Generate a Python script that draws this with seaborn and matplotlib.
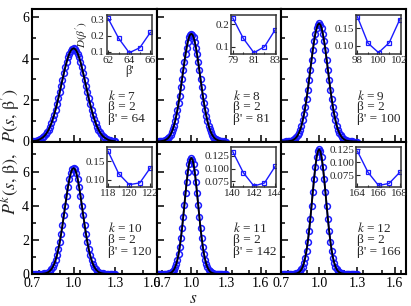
import matplotlib
matplotlib.use('Agg')
import matplotlib.pyplot as plt
from matplotlib.ticker import MultipleLocator
import seaborn as sns
import pandas as pd

# ---------------- data ----------------
S = [0.70, 0.71, 0.72, 0.73, 0.74, 0.75, 0.76, 0.77, 0.78, 0.79,
     0.80, 0.81, 0.82, 0.83, 0.84, 0.85, 0.86, 0.87, 0.88, 0.89,
     0.90, 0.91, 0.92, 0.93, 0.94, 0.95, 0.96, 0.97, 0.98, 0.99,
     1.00, 1.01, 1.02, 1.03, 1.04, 1.05, 1.06, 1.07, 1.08, 1.09,
     1.10, 1.11, 1.12, 1.13, 1.14, 1.15, 1.16, 1.17, 1.18, 1.19,
     1.20, 1.21, 1.22, 1.23, 1.24, 1.25, 1.26, 1.27, 1.28, 1.29, 1.30]

P7 = [0.01, 0.02, 0.03, 0.04, 0.06, 0.08, 0.12, 0.16, 0.21, 0.27,
      0.35, 0.45, 0.57, 0.72, 0.88, 1.08, 1.29, 1.54, 1.80, 2.08,
      2.38, 2.69, 2.99, 3.29, 3.58, 3.84, 4.06, 4.25, 4.39, 4.47,
      4.50,
      4.47, 4.39, 4.25, 4.06, 3.84, 3.58, 3.29, 2.99, 2.69, 2.38,
      2.08, 1.80, 1.54, 1.29, 1.08, 0.88, 0.72, 0.57, 0.45, 0.35,
      0.27, 0.21, 0.16, 0.12, 0.08, 0.06, 0.04, 0.03, 0.02, 0.01]
P8 = [0.00, 0.00, 0.01, 0.01, 0.02, 0.03, 0.04, 0.06, 0.09, 0.12,
      0.17, 0.24, 0.33, 0.45, 0.59, 0.77, 0.98, 1.24, 1.53, 1.86,
      2.22, 2.61, 3.02, 3.43, 3.83, 4.21, 4.54, 4.82, 5.03, 5.16,
      5.20,
      5.16, 5.03, 4.82, 4.54, 4.21, 3.83, 3.43, 3.02, 2.61, 2.22,
      1.86, 1.53, 1.24, 0.98, 0.77, 0.59, 0.45, 0.33, 0.24, 0.17,
      0.12, 0.09, 0.06, 0.04, 0.03, 0.02, 0.01, 0.01, 0.00, 0.00]
P9 = [0.00, 0.00, 0.00, 0.00, 0.01, 0.01, 0.02, 0.03, 0.04, 0.06,
      0.10, 0.14, 0.21, 0.30, 0.42, 0.57, 0.77, 1.02, 1.31, 1.66,
      2.05, 2.49, 2.97, 3.46, 3.95, 4.42, 4.84, 5.20, 5.47, 5.64,
      5.70,
      5.64, 5.47, 5.20, 4.84, 4.42, 3.95, 3.46, 2.97, 2.49, 2.05,
      1.66, 1.31, 1.02, 0.77, 0.57, 0.42, 0.30, 0.21, 0.14, 0.10,
      0.06, 0.04, 0.03, 0.02, 0.01, 0.01, 0.00, 0.00, 0.00, 0.00]
P10 = [0.00, 0.00, 0.00, 0.00, 0.00, 0.00, 0.01, 0.01, 0.02, 0.03,
       0.05, 0.08, 0.12, 0.19, 0.28, 0.41, 0.58, 0.81, 1.09, 1.44,
       1.85, 2.33, 2.86, 3.43, 4.01, 4.58, 5.11, 5.56, 5.91, 6.13,
       6.20,
       6.13, 5.91, 5.56, 5.11, 4.58, 4.01, 3.43, 2.86, 2.33, 1.85,
       1.44, 1.09, 0.81, 0.58, 0.41, 0.28, 0.19, 0.12, 0.08, 0.05,
       0.03, 0.02, 0.01, 0.01, 0.00, 0.00, 0.00, 0.00, 0.00, 0.00]
P11 = [0.00, 0.00, 0.00, 0.00, 0.00, 0.00, 0.00, 0.00, 0.01, 0.01,
       0.02, 0.04, 0.06, 0.10, 0.17, 0.26, 0.39, 0.58, 0.84, 1.17,
       1.59, 2.10, 2.68, 3.34, 4.03, 4.73, 5.39, 5.97, 6.42, 6.70,
       6.80,
       6.70, 6.42, 5.97, 5.39, 4.73, 4.03, 3.34, 2.68, 2.10, 1.59,
       1.17, 0.84, 0.58, 0.39, 0.26, 0.17, 0.10, 0.06, 0.04, 0.02,
       0.01, 0.01, 0.00, 0.00, 0.00, 0.00, 0.00, 0.00, 0.00, 0.00]
P12 = [0.00, 0.00, 0.00, 0.00, 0.00, 0.00, 0.00, 0.00, 0.00, 0.00,
       0.01, 0.02, 0.03, 0.06, 0.10, 0.17, 0.27, 0.43, 0.66, 0.96,
       1.37, 1.88, 2.50, 3.21, 4.00, 4.80, 5.58, 6.28, 6.83, 7.18,
       7.30,
       7.18, 6.83, 6.28, 5.58, 4.80, 4.00, 3.21, 2.50, 1.88, 1.37,
       0.96, 0.66, 0.43, 0.27, 0.17, 0.10, 0.06, 0.03, 0.02, 0.01,
       0.00, 0.00, 0.00, 0.00, 0.00, 0.00, 0.00, 0.00, 0.00, 0.00]

K = [7, 8, 9, 10, 11, 12]
BETA = 2
BETAP = [64, 81, 100, 120, 142, 166]

BP7 = [62, 63, 64, 65, 66]
BP8 = [79, 80, 81, 82, 83]
BP9 = [98, 99, 100, 101, 102]
BP10 = [118, 119, 120, 121, 122]
BP11 = [140, 141, 142, 143, 144]
BP12 = [164, 165, 166, 167, 168]
D7 = [0.306, 0.183, 0.094, 0.125, 0.220]
D8 = [0.229, 0.137, 0.073, 0.100, 0.175]
D9 = [0.183, 0.108, 0.081, 0.109, 0.175]
D10 = [0.177, 0.116, 0.086, 0.091, 0.132]
D11 = [0.133, 0.092, 0.066, 0.072, 0.104]
D12 = [0.121, 0.081, 0.056, 0.060, 0.081]

XTICKS = [0.7, 1.0, 1.3, 1.6]
# padding spaces keep the "1.6"/"0.7" pair apart where the first columns meet
XTICKLABELS = [["0.7", "1.0", "1.3", "1.6   "],
               ["   0.7", "1.0", "1.3", "1.6"],
               ["0.7", "1.0", "1.3", "1.6"]]
YTICKS = [0, 2, 4, 6]
INSET_YTICKS = [[0.1, 0.2, 0.3], [0.1, 0.2], [0.10, 0.15],
                [0.10, 0.15], [0.075, 0.100, 0.125], [0.075, 0.100, 0.125]]
INSET_YTICKLABELS = [["0.1", "0.2", "0.3"], ["0.1", "0.2"], ["0.10", "0.15"],
                     ["0.10", "0.15"], ["0.075", "0.100", "0.125"],
                     ["0.075", "0.100", "0.125"]]

P_ALL = [P7, P8, P9, P10, P11, P12]
BP_ALL = [BP7, BP8, BP9, BP10, BP11, BP12]
D_ALL = [D7, D8, D9, D10, D11, D12]

# ---------------- layout / style ----------------
XLIMS = [(0.7, 1.6), (0.7, 1.78), (0.7, 1.69)]
YLIMS = [(0, 6.4), (0, 7.76)]
INSET_YLIMS = [(0.086, 0.327), (0.067, 0.242), (0.077, 0.188),
               (0.081, 0.187), (0.065, 0.141), (0.054, 0.128)]

sns.set_theme(style='ticks')
plt.rcParams['font.family'] = ['Liberation Serif', 'DejaVu Serif']
plt.rcParams['mathtext.fontset'] = 'stix'

fig, axes = plt.subplots(2, 3, figsize=(4.11, 3.06), dpi=100)
fig.subplots_adjust(left=32 / 411, right=406 / 411, top=1 - 9 / 306,
                    bottom=1 - 274 / 306, wspace=0, hspace=0)

for i in range(6):
    r, c = divmod(i, 3)
    ax = axes[r, c]
    df = pd.DataFrame({'s': S, 'P': P_ALL[i]})
    sns.lineplot(data=df, x='s', y='P', ax=ax, color='#1a1aff', lw=1.3,
                 marker='o', markersize=4.2, markerfacecolor='none',
                 markeredgecolor='#1a1aff', markeredgewidth=1.1, zorder=2)
    sns.lineplot(data=df, x='s', y='P', ax=ax, color='black', lw=1.3, zorder=3)
    ax.set_xlim(*XLIMS[c])
    ax.set_ylim(*YLIMS[r])
    ax.set_xticks(XTICKS)
    ax.set_yticks(YTICKS)
    ax.xaxis.set_minor_locator(MultipleLocator(0.15))
    ax.yaxis.set_minor_locator(MultipleLocator(1))
    ax.tick_params(which='both', direction='in', width=1.1, labelsize=10, pad=2,
                   colors='black')
    ax.tick_params(axis='x', pad=2.5)
    ax.tick_params(which='major', length=5)
    ax.tick_params(which='minor', length=3)
    if r == 0:
        ax.set_xticklabels([])
    else:
        ax.set_xticklabels(XTICKLABELS[c])
    if c != 0:
        ax.set_yticklabels([])
    ax.set_xlabel('')
    ax.set_ylabel('')
    for sp in ax.spines.values():
        sp.set_linewidth(1.5)
        sp.set_color('black')

    ax.text(0.61, 0.345, r"$k$ = %d" % K[i], transform=ax.transAxes,
            fontsize=9.5, va='center', ha='left')
    ax.text(0.61, 0.258, "β = %d" % BETA, transform=ax.transAxes,
            fontsize=9.5, va='center', ha='left')
    ax.text(0.61, 0.168, "β' = %d" % BETAP[i], transform=ax.transAxes,
            fontsize=9.5, va='center', ha='left')

    ins = ax.inset_axes([0.60, 0.66, 0.36, 0.295])
    dfi = pd.DataFrame({'b': BP_ALL[i], 'D': D_ALL[i]})
    sns.lineplot(data=dfi, x='b', y='D', ax=ins, color='#1a1aff', lw=1.0,
                 marker='s', markersize=3.2, markerfacecolor='none',
                 markeredgecolor='#1a1aff', markeredgewidth=0.9)
    b = BP_ALL[i]
    ins.set_xlim(b[0] - 0.12, b[-1] + 0.12)
    ins.set_ylim(*INSET_YLIMS[i])
    ins.set_xticks([b[0], b[2], b[4]])
    ins.set_xticklabels([str(b[0]), str(b[2]), str(b[4])])
    ins.xaxis.set_minor_locator(MultipleLocator(1))
    ins.set_yticks(INSET_YTICKS[i])
    ins.set_yticklabels(INSET_YTICKLABELS[i])
    ins.tick_params(which='both', direction='in', labelsize=8, pad=1.5, width=0.8)
    ins.tick_params(which='major', length=3)
    ins.tick_params(which='minor', length=1.8)
    for sp in ins.spines.values():
        sp.set_linewidth(1.1)
        sp.set_color('#333333')
    if i == 0:
        ins.set_xlabel("β'", fontsize=9, labelpad=0)
        ins.set_ylabel(r"$D(\beta')$", fontsize=8, labelpad=0)
    else:
        ins.set_xlabel('')
        ins.set_ylabel('')

fig.text(0.027, 0.503, r"$P^k(s,\,\mathrm{\beta}),\ \ P(s,\,\mathrm{\beta}')$",
         rotation=90, va='center', ha='center', fontsize=13)
fig.text(0.47, 0.022, r"$s$", va='center', ha='center', fontsize=12.5)

fig.savefig('out.png', dpi=100)
